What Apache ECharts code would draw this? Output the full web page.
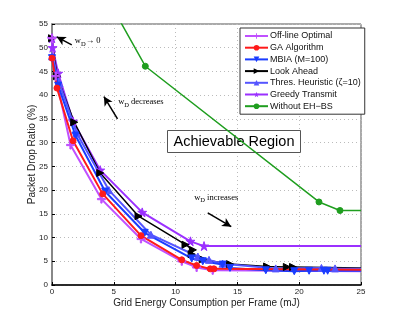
<!DOCTYPE html>
<html>
<head>
<meta charset="utf-8">
<script src="https://cdn.jsdelivr.net/npm/echarts@6/dist/echarts.min.js"></script>
<style>
  html, body { margin: 0; padding: 0; background: #fff; }
  #chart { width: 399px; height: 321px; }
</style>
</head>
<body>
<div id="chart"></div>
<script>
// values: [grid energy (mJ), packet drop ratio (%)]
const offlineOptimal = [[0, 52], [0.3, 44], [1.5, 29.5], [4.0, 18.1], [7.2, 9.7], [10.5, 5.0], [11.7, 3.7], [13.0, 3.1], [25, 2.9]]
const gaAlgorithm = [[0, 47.8], [0.4, 41.5], [1.7, 30.4], [4.1, 19.2], [7.2, 10.4], [10.5, 5.3], [11.7, 4.1], [12.8, 3.4], [13.1, 3.4], [25, 3.2]]
const mbia = [[0, 47.8], [0.5, 42], [1.9, 31.5], [4.3, 19.7], [7.5, 11.0], [11.3, 5.6], [12.2, 5.0], [13.8, 4.3], [14.4, 3.6], [17.3, 3.1], [19.6, 2.9], [20.8, 3.0], [22.0, 3.0], [22.3, 3.0], [25, 3.0]]
const lookAhead = [[0, 52], [0.4, 44], [1.8, 34.3], [3.9, 23.6], [7.0, 14.5], [10.8, 8.5], [11.4, 7.4], [11.3, 6.5], [12.2, 5.4], [14.4, 4.4], [17.4, 3.9], [19.0, 3.8], [19.5, 3.8], [25, 3.6]]
const thresHeuristic = [[0, 48.2], [0.6, 42.5], [2.0, 32], [4.6, 20], [8.0, 10.6], [11.8, 6.0], [12.7, 5.3], [13.8, 4.5], [18.1, 3.5], [21.8, 3.6], [22.9, 3.5], [25, 3.4]]
const greedyTransmit = [[0, 52], [0.05, 50], [0.5, 44.6], [1.7, 34.5], [3.9, 24.2], [7.3, 15.3], [11.2, 9.2], [12.3, 8.2], [25, 8.2]]
const withoutEHBS = [[4.5, 60.3], [7.55, 46.1], [21.6, 17.5], [23.3, 15.7], [25, 15.7]]

const xTicks = [0, 5, 10, 15, 20, 25]
const yTicks = [0, 5, 10, 15, 20, 25, 30, 35, 40, 45, 50, 55]

// annotation arrows: [tail, head] in data units
const arrowZero = [[1.6, 50.6], [0.38, 52.3]]
const arrowDecrease = [[5.3, 35.0], [4.2, 39.7]]
const arrowIncrease = [[12.6, 15.2], [14.5, 12.3]]

const STAR = 'path://M5,0L6.2,3.8L10,3.8L6.9,6.2L8.1,10L5,7.6L1.9,10L3.1,6.2L0,3.8L3.8,3.8Z'
const PLUS = 'path://M4.2,0H5.8V4.2H10V5.8H5.8V10H4.2V5.8H0V4.2H4.2Z'
const TRI_RIGHT = 'path://M0,0L10,5L0,10Z'
const TRI_DOWN = 'path://M0,0L10,0L5,10Z'

const X_MAX = xTicks[xTicks.length - 1]

const chart = echarts.init(document.getElementById('chart'))

// the curves run on past the right edge, so no marker at x = max
const withEnd = (data) => data.map(d => d[0] >= X_MAX ? { value: d, symbol: 'none' } : d)

const mkLine = (name, data, color, symbol, size, width) => ({
  name,
  type: 'line',
  data: withEnd(data),
  symbol,
  symbolSize: size,
  showAllSymbol: true,
  clip: true,
  lineStyle: { color, width },
  itemStyle: { color, borderColor: color },
  z: 3
})

const arrowLine = (pair) => [{ coord: pair[0] }, { coord: pair[1] }]

const option = {
  animation: false,
  backgroundColor: '#fff',
  grid: {
    left: 52, right: 38, top: 24, bottom: 36,
    show: true, borderColor: '#555', borderWidth: 1
  },
  xAxis: {
    type: 'value',
    min: xTicks[0], max: X_MAX, interval: 5,
    name: 'Grid Energy Consumption per Frame (mJ)',
    nameLocation: 'middle', nameGap: 13,
    nameMoveOverlap: false,
    nameTextStyle: { fontFamily: 'Liberation Sans', fontSize: 10, color: '#222' },
    axisLine: { lineStyle: { color: '#000', width: 1.5 } },
    axisTick: { inside: true, length: 3, lineStyle: { color: '#000' } },
    axisLabel: { fontFamily: 'Liberation Sans', fontSize: 8, color: '#222', margin: 3 },
    splitLine: { lineStyle: { color: '#bbb', type: [1, 3] } }
  },
  yAxis: {
    type: 'value',
    min: yTicks[0], max: yTicks[yTicks.length - 1], interval: 5,
    name: 'Packet Drop Ratio (%)',
    nameLocation: 'middle', nameGap: 14.5,
    nameMoveOverlap: false,
    nameTextStyle: { fontFamily: 'Liberation Sans', fontSize: 10, color: '#222' },
    axisLine: { show: true, lineStyle: { color: '#888', width: 2 } },
    axisTick: { inside: true, length: 3, lineStyle: { color: '#000' } },
    axisLabel: { fontFamily: 'Liberation Sans', fontSize: 8, color: '#222', margin: 4 },
    splitLine: { lineStyle: { color: '#bbb', type: [1, 3] } }
  },
  legend: {
    orient: 'vertical',
    left: 240, top: 28,
    width: 119,
    padding: [3, 4, 3, 4],
    itemGap: 1.7,
    itemWidth: 23, itemHeight: 7,
    borderColor: '#333', borderWidth: 1,
    backgroundColor: '#fff',
    textStyle: { fontFamily: 'Liberation Sans', fontSize: 9, color: '#111', lineHeight: 10, padding: [0, 0, 0, -3] },
    data: ['Off-line Optimal', 'GA Algorithm', 'MBIA (M=100)', 'Look Ahead', 'Thres. Heuristic (\u03B6=10)', 'Greedy Transmit', 'Without EH\u2212BS']
  },
  series: [
    mkLine('Without EH\u2212BS', withoutEHBS, '#1f9e1f', 'circle', 6, 1.5),
    mkLine('Greedy Transmit', greedyTransmit, '#9b30ff', STAR, 9, 2),
    mkLine('Look Ahead', lookAhead, '#000', TRI_RIGHT, 7, 1.5),
    mkLine('Off-line Optimal', offlineOptimal, '#c050ff', PLUS, 8, 2),
    mkLine('Thres. Heuristic (\u03B6=10)', thresHeuristic, '#5555ff', 'triangle', 7, 2),
    mkLine('MBIA (M=100)', mbia, '#1a3cff', TRI_DOWN, 7, 2),
    mkLine('GA Algorithm', gaAlgorithm, '#ff1a1a', 'circle', 6, 2),
    {
      type: 'line',
      data: [],
      silent: true,
      markLine: {
        silent: true,
        symbol: ['none', 'arrow'],
        symbolSize: [7, 9],
        label: { show: false },
        lineStyle: { color: '#000', width: 1.5, type: 'solid' },
        data: [arrowLine(arrowZero), arrowLine(arrowDecrease), arrowLine(arrowIncrease)]
      }
    }
  ]
}

chart.setOption(option)

// text annotations placed at data coordinates
const notes = [
  { at: [1.85, 51.4], text: '{w|w}{s|D}{w|\u2192 0}' },
  { at: [5.35, 38.6], text: '{w|w}{s|D}{w| decreases}' },
  { at: [11.5, 18.4], text: '{w|w}{s|D}{w| increases}' }
]
const rich = {
  w: { fontFamily: 'Liberation Serif', fontSize: 8.5, color: '#222' },
  s: { fontFamily: 'Liberation Serif', fontSize: 6.5, color: '#222', padding: [6, 0, 0, 0] }
}
const graphics = notes.map(n => {
  const p = chart.convertToPixel({ gridIndex: 0 }, n.at)
  return {
    type: 'text', x: p[0], y: p[1],
    style: { text: n.text, rich, verticalAlign: 'middle' },
    z: 10
  }
})
graphics.push({
  type: 'group', left: 167, top: 130, z: 10,
  children: [
    { type: 'rect', shape: { x: 0, y: 0, width: 133, height: 22 }, style: { fill: '#fff', stroke: '#555', lineWidth: 1 } },
    { type: 'text', x: 66.5, y: 11, style: { text: 'Achievable Region', fontFamily: 'Liberation Sans', fontSize: 14.5, fill: '#000', align: 'center', verticalAlign: 'middle' } }
  ]
})
chart.setOption({ graphic: graphics })
</script>
</body>
</html>
